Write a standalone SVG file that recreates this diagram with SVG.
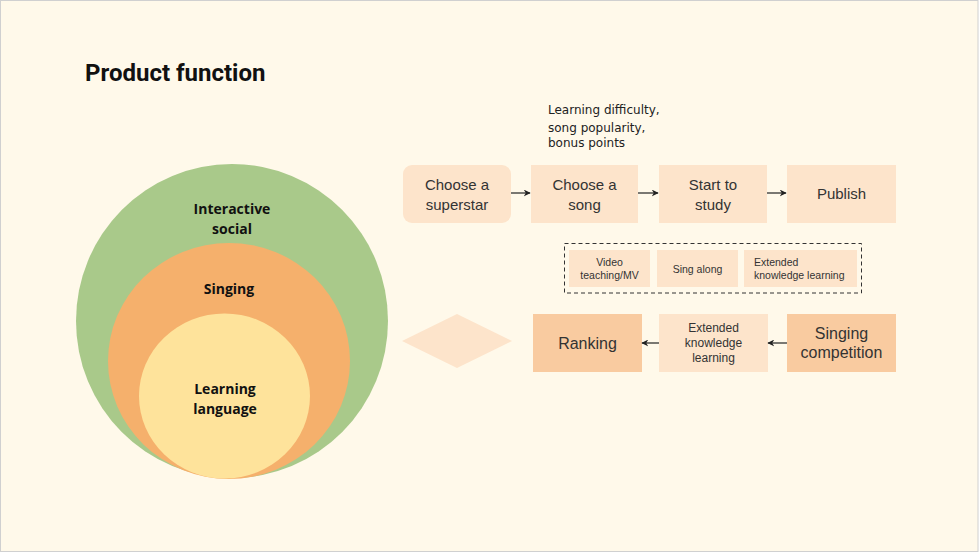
<svg xmlns="http://www.w3.org/2000/svg" width="980" height="554" viewBox="0 0 980 554">
<defs>
<style>
.box{fill:#FDE4CB;}
.dark{fill:#F9CBA0;}
.t{font-family:"Liberation Sans",Arial,sans-serif;fill:#333;text-anchor:middle;}
.c{font-family:"Open Sans","Noto Sans",sans-serif;font-weight:bold;font-size:14px;fill:#111;text-anchor:middle;}
.edge{stroke:#222;stroke-width:1.2;fill:none;marker-end:url(#ah);}
</style>
<marker id="ah" viewBox="0 0 10 10" refX="9" refY="5" markerWidth="7" markerHeight="7" orient="auto" markerUnits="userSpaceOnUse">
<path d="M0,0 L10,5 L0,10 L3,5 Z" fill="#222"/>
</marker>
</defs>
<rect x="0" y="0" width="980" height="554" fill="#fff"/>
<rect x="0.5" y="0.5" width="977.5" height="551" fill="#FFF9EA" stroke="#d0d0d0" stroke-width="1"/>
<text x="85" y="81" style="font-family:Roboto,'Liberation Sans',sans-serif;font-weight:bold;font-size:24px;fill:#111;">Product function</text>

<g id="circles">
<ellipse cx="232" cy="321" rx="156" ry="157" fill="#A9C98A"/>
<ellipse cx="229" cy="361" rx="121" ry="118" fill="#F5B06C"/>
<ellipse cx="224.5" cy="396" rx="85.5" ry="82.5" fill="#FEE39B"/>
<text class="c" x="232" y="214">Interactive</text>
<text class="c" x="232" y="234">social</text>
<text class="c" x="229" y="294">Singing</text>
<text class="c" x="225" y="394">Learning</text>
<text class="c" x="225" y="414">language</text>
</g>

<g id="note">
<text style="font-family:'DejaVu Sans',Verdana,sans-serif;font-size:12px;fill:#222;"><tspan x="548" y="114">Learning difficulty,</tspan><tspan x="548" y="132">song popularity,</tspan><tspan x="548" y="147">bonus points</tspan></text>
</g>

<g id="superstar"><rect class="box" x="403" y="165" width="108" height="58" rx="9"/><text class="t" font-size="15"><tspan x="457" y="190">Choose a</tspan><tspan x="457" y="210">superstar</tspan></text></g>
<g id="song"><rect class="box" x="531" y="165" width="107" height="58"/><text class="t" font-size="15"><tspan x="584.5" y="190">Choose a</tspan><tspan x="584.5" y="210">song</tspan></text></g>
<g id="study"><rect class="box" x="659" y="165" width="108" height="58"/><text class="t" font-size="15"><tspan x="713" y="190">Start to</tspan><tspan x="713" y="210">study</tspan></text></g>
<g id="publish"><rect class="box" x="787" y="165" width="109" height="58"/><text class="t" font-size="15" x="841.5" y="199">Publish</text></g>

<g id="group">
<rect x="564.5" y="243.5" width="297" height="49.5" fill="none" stroke="#333" stroke-dasharray="4,3" stroke-width="1"/>
</g>
<g id="video"><rect class="box" x="569" y="250" width="81" height="37"/><text class="t" font-size="10.5"><tspan x="609.5" y="266">Video</tspan><tspan x="609.5" y="279">teaching/MV</tspan></text></g>
<g id="singalong"><rect class="box" x="657" y="250" width="81" height="37"/><text class="t" font-size="10.5" x="697.5" y="273">Sing along</text></g>
<g id="extended1"><rect class="box" x="744" y="250" width="113" height="37"/><text class="t" font-size="10.5" style="text-anchor:start"><tspan x="754" y="266">Extended</tspan><tspan x="754" y="279">knowledge learning</tspan></text></g>

<g id="diamond"><polygon points="457,314 512,341 457,368 402,341" fill="#FDE4CB"/></g>
<g id="ranking"><rect class="dark" x="533" y="314" width="109" height="58"/><text class="t" font-size="16" x="587.5" y="349">Ranking</text></g>
<g id="extended2"><rect class="box" x="659" y="314" width="109" height="58"/><text class="t" font-size="12"><tspan x="713.5" y="332">Extended</tspan><tspan x="713.5" y="347">knowledge</tspan><tspan x="713.5" y="362">learning</tspan></text></g>
<g id="competition"><rect class="dark" x="787" y="314" width="109" height="58"/><text class="t" font-size="16"><tspan x="841.5" y="339">Singing</tspan><tspan x="841.5" y="358">competition</tspan></text></g>

<g id="connectors">
<line class="edge" x1="511" y1="193" x2="530" y2="193"/>
<line class="edge" x1="638" y1="193" x2="658" y2="193"/>
<line class="edge" x1="767" y1="193" x2="786" y2="193"/>
<line class="edge" x1="659" y1="343" x2="642" y2="343"/>
<line class="edge" x1="787" y1="343" x2="768" y2="343"/>
</g>
</svg>
